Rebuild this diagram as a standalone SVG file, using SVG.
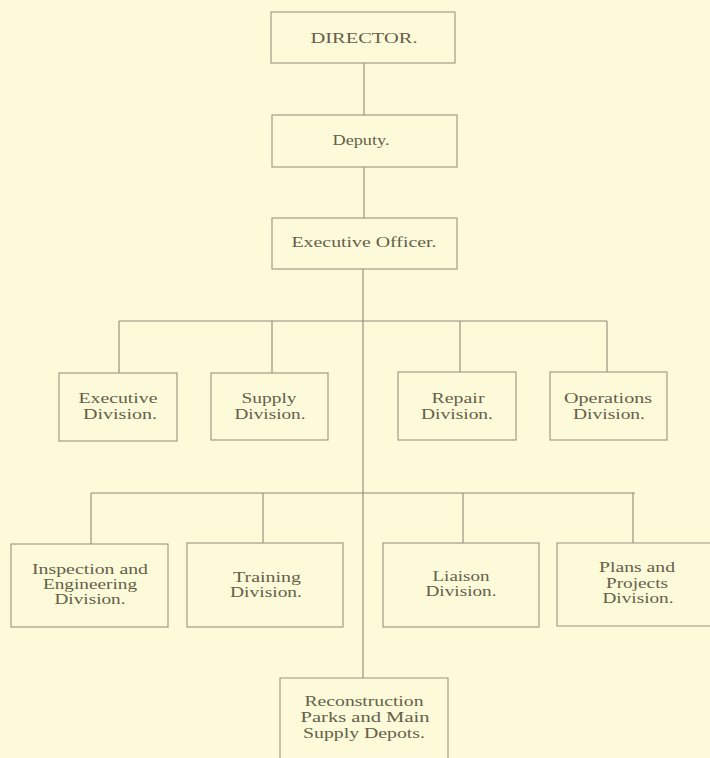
<svg xmlns="http://www.w3.org/2000/svg" width="710" height="758" viewBox="0 0 710 758">
<style>
.bg{fill:#FCFAD8}
.box{fill:none;stroke:#9a9480;stroke-width:1.1}
.ln{fill:none;stroke:#8f8a76;stroke-width:1.1}
text{font-family:"Liberation Serif","DejaVu Serif",serif;font-size:15px;fill:#655f4c;text-anchor:middle}
</style>
<rect class="bg" x="0" y="0" width="710" height="758"/>
<g id="connectors">
<line class="ln" x1="364" y1="63" x2="364" y2="115"/>
<line class="ln" x1="364" y1="167" x2="364" y2="218"/>
<line class="ln" x1="363" y1="269" x2="363" y2="678"/>
<line class="ln" x1="119" y1="321" x2="607" y2="321"/>
<line class="ln" x1="119" y1="321" x2="119" y2="373"/>
<line class="ln" x1="272" y1="321" x2="272" y2="373"/>
<line class="ln" x1="460" y1="321" x2="460" y2="372"/>
<line class="ln" x1="607" y1="321" x2="607" y2="372"/>
<line class="ln" x1="91" y1="493" x2="635" y2="493"/>
<line class="ln" x1="91" y1="493" x2="91" y2="544"/>
<line class="ln" x1="263" y1="493" x2="263" y2="543"/>
<line class="ln" x1="463" y1="493" x2="463" y2="543"/>
<line class="ln" x1="633" y1="493" x2="633" y2="543"/>
</g>
<g id="director">
<rect class="box" x="271" y="12" width="184" height="51"/>
<text x="364" y="43" textLength="107" lengthAdjust="spacingAndGlyphs">DIRECTOR.</text>
</g>
<g id="deputy">
<rect class="box" x="272" y="115" width="185" height="52"/>
<text x="361" y="145" textLength="57" lengthAdjust="spacingAndGlyphs">Deputy.</text>
</g>
<g id="executive-officer">
<rect class="box" x="272" y="218" width="185" height="51"/>
<text x="364" y="247" textLength="145" lengthAdjust="spacingAndGlyphs">Executive Officer.</text>
</g>
<g id="executive-division">
<rect class="box" x="59" y="373" width="118" height="68"/>
<text x="118" y="403" textLength="79" lengthAdjust="spacingAndGlyphs">Executive</text>
<text x="120" y="419" textLength="74" lengthAdjust="spacingAndGlyphs">Division.</text>
</g>
<g id="supply-division">
<rect class="box" x="211" y="373" width="117" height="67"/>
<text x="269" y="403" textLength="55" lengthAdjust="spacingAndGlyphs">Supply</text>
<text x="270" y="419" textLength="71" lengthAdjust="spacingAndGlyphs">Division.</text>
</g>
<g id="repair-division">
<rect class="box" x="398" y="372" width="118" height="68"/>
<text x="458" y="403" textLength="53" lengthAdjust="spacingAndGlyphs">Repair</text>
<text x="457" y="419" textLength="72" lengthAdjust="spacingAndGlyphs">Division.</text>
</g>
<g id="operations-division">
<rect class="box" x="550" y="372" width="117" height="68"/>
<text x="608" y="403" textLength="88" lengthAdjust="spacingAndGlyphs">Operations</text>
<text x="609" y="419" textLength="72" lengthAdjust="spacingAndGlyphs">Division.</text>
</g>
<g id="inspection-division">
<rect class="box" x="11" y="544" width="157" height="83"/>
<text x="90" y="574" textLength="116" lengthAdjust="spacingAndGlyphs">Inspection and</text>
<text x="90" y="589" textLength="94" lengthAdjust="spacingAndGlyphs">Engineering</text>
<text x="90" y="604" textLength="71" lengthAdjust="spacingAndGlyphs">Division.</text>
</g>
<g id="training-division">
<rect class="box" x="187" y="543" width="156" height="84"/>
<text x="267" y="582" textLength="68" lengthAdjust="spacingAndGlyphs">Training</text>
<text x="266" y="597" textLength="72" lengthAdjust="spacingAndGlyphs">Division.</text>
</g>
<g id="liaison-division">
<rect class="box" x="383" y="543" width="156" height="84"/>
<text x="461" y="581" textLength="57" lengthAdjust="spacingAndGlyphs">Liaison</text>
<text x="461" y="596" textLength="71" lengthAdjust="spacingAndGlyphs">Division.</text>
</g>
<g id="plans-division">
<path class="box" d="M712,543 H557 V626 H712"/>
<text x="637" y="572" textLength="76" lengthAdjust="spacingAndGlyphs">Plans and</text>
<text x="637" y="588" textLength="62" lengthAdjust="spacingAndGlyphs">Projects</text>
<text x="638" y="603" textLength="71" lengthAdjust="spacingAndGlyphs">Division.</text>
</g>
<g id="reconstruction-parks">
<path class="box" d="M280,760 V678 H448 V760"/>
<text x="364" y="706" textLength="119" lengthAdjust="spacingAndGlyphs">Reconstruction</text>
<text x="365" y="722" textLength="129" lengthAdjust="spacingAndGlyphs">Parks and Main</text>
<text x="364" y="738" textLength="122" lengthAdjust="spacingAndGlyphs">Supply Depots.</text>
</g>
</svg>
